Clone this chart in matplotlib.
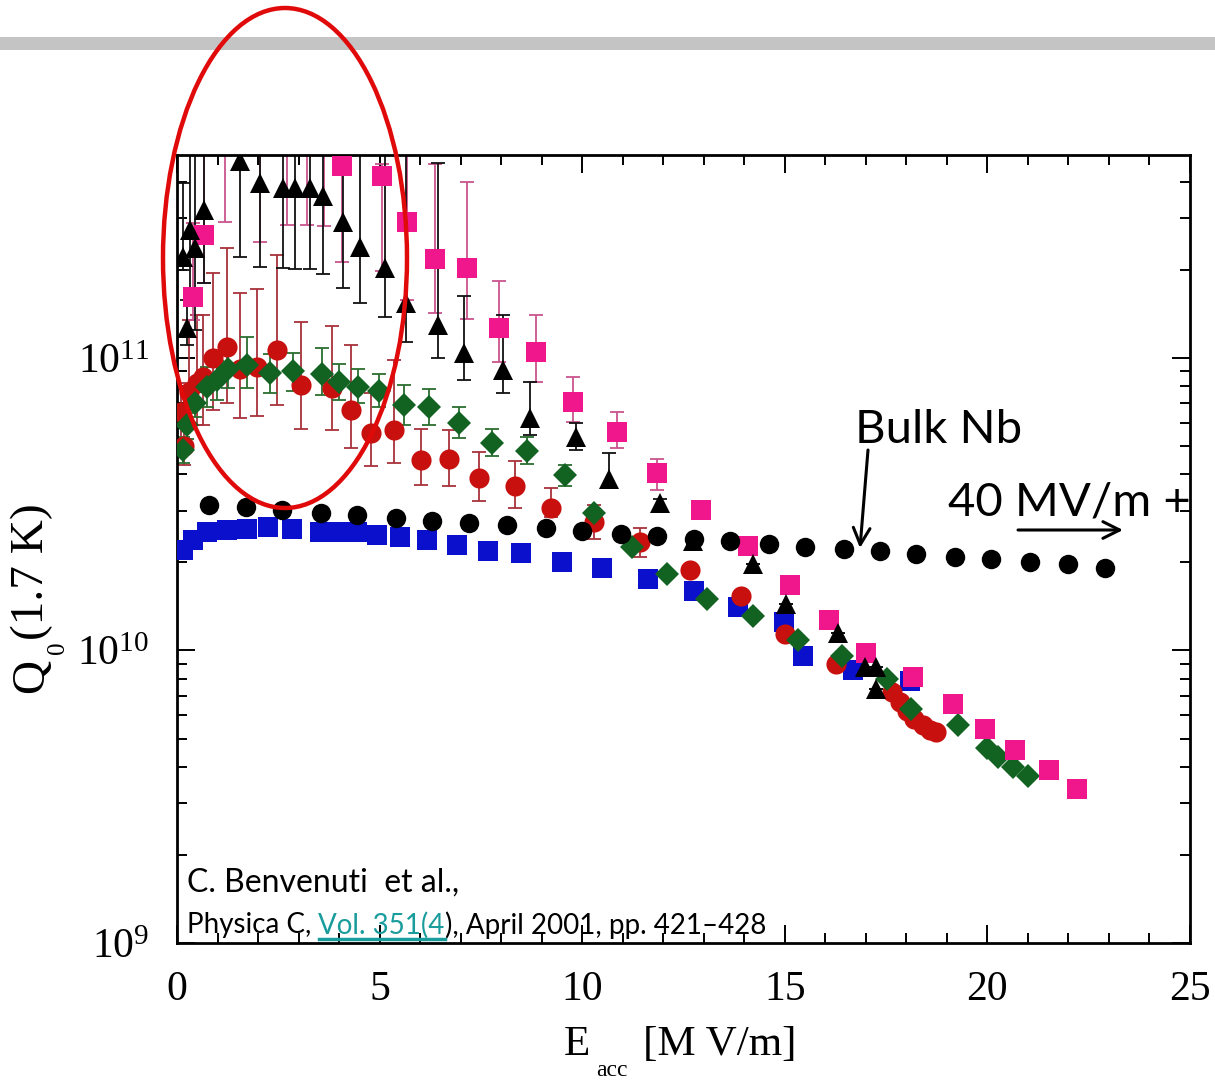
import matplotlib.pyplot as plt
from matplotlib.patches import Ellipse, Rectangle
from matplotlib.lines import Line2D
from matplotlib.ticker import MultipleLocator, LogLocator, NullFormatter

# E_acc in MV/m, Q0 in units of 1e10
bulk_E = [0.8, 1.7, 2.6, 3.55, 4.45, 5.4, 6.3, 7.2, 8.15, 9.1, 10.0, 10.95, 11.85,
          12.75, 13.65, 14.6, 15.5, 16.45, 17.35, 18.25, 19.2, 20.1, 21.05, 22.0, 22.9]
bulk_Q = [3.15, 3.10, 3.03, 2.96, 2.91, 2.84, 2.78, 2.73, 2.69, 2.63, 2.57, 2.51, 2.47,
          2.41, 2.36, 2.32, 2.26, 2.23, 2.18, 2.13, 2.08, 2.05, 2.01, 1.97, 1.92]

blue_E = [0.15, 0.40, 0.74, 1.23, 1.73, 2.25, 2.84, 3.53, 4.02, 4.44, 4.94, 5.51, 6.17,
          6.91, 7.68, 8.49, 9.51, 10.49, 11.63, 12.77, 13.85, 14.99, 15.46, 16.69, 18.10]
blue_Q = [2.21, 2.39, 2.55, 2.59, 2.61, 2.65, 2.61, 2.55, 2.55, 2.55, 2.49, 2.45, 2.39,
          2.30, 2.19, 2.16, 2.01, 1.92, 1.75, 1.60, 1.41, 1.25, 0.955, 0.855, 0.784]

green_E = [0.15, 0.25, 0.44, 0.74, 0.99, 1.26, 1.73, 2.30, 2.86, 3.58, 4.00, 4.47, 4.99,
           5.60, 6.22, 6.96, 7.78, 8.64, 9.58, 10.30, 11.23, 12.10, 13.09, 14.22, 15.33,
           16.42, 17.51, 18.12, 19.28, 19.98, 20.27, 20.64, 20.99]
green_Q = [4.85, 5.91, 7.02, 7.96, 8.41, 9.17, 9.46, 8.89, 9.03, 8.82, 8.28, 7.96, 7.71,
           6.91, 6.80, 6.00, 5.13, 4.82, 3.99, 2.96, 2.26, 1.82, 1.50, 1.31, 1.09,
           0.955, 0.802, 0.630, 0.555, 0.463, 0.432, 0.399, 0.371]
green_lo = [4.38, 5.30, 6.30, 6.80, 7.20, 7.90, 7.90, 7.60, 7.70, 7.48, 7.20, 7.00, 6.80,
            5.91, 5.91, 5.33, 4.63, 4.35, 3.66, 2.96, 2.26, 1.82, 1.50, 1.31, 1.09,
            0.955, 0.802, 0.630, 0.555, 0.463, 0.432, 0.399, 0.371]
green_hi = [5.37, 6.50, 7.90, 9.31, 9.80, 10.6, 11.8, 10.3, 10.4, 10.8, 9.50, 9.20, 8.80,
            8.09, 7.84, 6.80, 5.72, 5.37, 4.32, 2.96, 2.26, 1.82, 1.50, 1.31, 1.09,
            0.955, 0.802, 0.630, 0.555, 0.463, 0.432, 0.399, 0.371]

red_E = [0.10, 0.17, 0.30, 0.49, 0.64, 0.89, 1.23, 1.56, 1.98, 2.47, 3.06, 3.83, 4.30,
         4.79, 5.36, 6.02, 6.72, 7.46, 8.35, 9.23, 10.30, 11.43, 12.67, 13.93, 15.01,
         16.27, 17.65, 17.85, 18.02, 18.20, 18.40, 18.59, 18.72]
red_Q = [6.54, 5.01, 7.66, 8.22, 8.61, 10.0, 10.9, 9.17, 9.31, 10.65, 8.09, 7.90, 6.65,
         5.55, 5.68, 4.49, 4.52, 3.89, 3.66, 3.08, 2.75, 2.34, 1.89, 1.53, 1.135,
         0.896, 0.719, 0.665, 0.619, 0.582, 0.555, 0.533, 0.525]
red_lo = [5.20, 4.30, 5.70, 5.90, 5.91, 6.65, 7.02, 6.24, 6.34, 6.91, 5.72, 5.68, 4.93,
          4.28, 4.38, 3.69, 3.66, 3.25, 3.08, 2.87, 2.41, 2.09, 1.89, 1.53, 1.135,
          0.896, 0.719, 0.665, 0.619, 0.582, 0.555, 0.533, 0.525]
red_hi = [8.20, 6.10, 13.5, 14.0, 14.0, 19.5, 23.7, 16.7, 17.2, 22.4, 13.3, 12.9, 11.1,
          7.60, 9.84, 5.72, 5.68, 4.77, 4.45, 3.60, 3.15, 2.63, 1.89, 1.53, 1.135,
          0.896, 0.719, 0.665, 0.619, 0.582, 0.555, 0.533, 0.525]

tri_E = [0.15, 0.25, 0.32, 0.44, 0.67, 1.56, 2.05, 2.62, 2.91, 3.28, 3.60, 4.10, 4.52,
         5.14, 5.65, 6.44, 7.09, 8.05, 8.72, 9.85, 10.67, 11.93, 12.74, 14.22, 15.04,
         16.32, 16.99, 17.26, 17.26]
tri_Q = [22.1, 12.7, 27.4, 23.7, 32.0, 47.0, 39.6, 38.0, 38.0, 38.0, 35.7, 29.1, 23.9,
         20.3, 15.4, 13.0, 10.4, 9.10, 6.24, 5.37, 3.87, 3.18, 2.36, 1.98, 1.44,
         1.15, 0.875, 0.875, 0.736]
tri_lo = [20.0, 11.1, 17.1, 12.5, 18.0, 22.1, 20.4, 20.3, 20.1, 20.1, 19.3, 17.3, 15.4,
          13.8, 11.3, 10.0, 8.41, 7.60, 5.46, 4.85, 3.63, 3.05, 2.36, 1.98, 1.44,
          1.15, 0.875, 0.875, 0.736]
tri_hi = [39.6, 15.8, 100, 100, 100, 100, 100, 100, 100, 100, 100, 100, 100,
          100, 100, 46.4, 16.3, 14.0, 8.28, 6.00, 4.74, 3.30, 2.36, 1.98, 1.44,
          1.15, 0.875, 0.875, 0.736]

# points 3-7 lie above the top of the frame, only their bars show
pink_E = [0.40, 0.67, 1.19, 2.05, 2.72, 3.21, 3.63, 4.07, 5.06, 5.68, 6.37, 7.16, 7.95,
          8.86, 9.78, 10.86, 11.85, 12.94, 14.10, 15.14, 16.10, 17.01, 18.17, 19.16,
          19.93, 20.69, 21.53, 22.22]
pink_Q = [16.2, 26.3, 60, 60, 60, 60, 60, 45.2, 41.8, 29.1, 21.8, 20.3, 12.7,
          10.5, 7.08, 5.59, 4.05, 3.01, 2.28, 1.68, 1.27, 0.984, 0.809, 0.655,
          0.537, 0.456, 0.389, 0.336]
pink_lo = [13.5, 18.0, 29.1, 24.9, 28.4, 28.4, 28.2, 21.3, 19.9, 15.8, 14.2, 13.6, 9.69,
           8.28, 6.05, 4.93, 3.55, 3.01, 2.28, 1.68, 1.27, 0.984, 0.809, 0.655,
           0.537, 0.456, 0.389, 0.336]
pink_hi = [29.0, 100, 100, 100, 100, 100, 100, 100, 46.0, 100, 45.9, 39.9, 18.3,
           14.0, 8.61, 6.54, 4.52, 3.01, 2.28, 1.68, 1.27, 0.984, 0.809, 0.655,
           0.537, 0.456, 0.389, 0.336]

W, H = 1215, 1080
serif = ['Liberation Serif', 'DejaVu Serif']
sans = ['Lato', 'DejaVu Sans']
plt.rcParams['mathtext.fontset'] = 'stix'
plt.rcParams['font.family'] = serif

fig = plt.figure(figsize=(W / 100, H / 100), dpi=100)
ax = fig.add_axes([177 / W, 1 - 943 / H, (1190 - 177) / W, (943 - 155) / H])


def bars(E, Q, lo, hi, color, z):
    q = [v * 1e10 for v in Q]
    err = [[(v - l) * 1e10 for v, l in zip(Q, lo)], [(h - v) * 1e10 for v, h in zip(Q, hi)]]
    ax.errorbar(E, q, yerr=err, fmt='none', ecolor=color, elinewidth=1.3,
                capsize=5, capthick=1.3, zorder=z)


bars(red_E, red_Q, red_lo, red_hi, '#a8323c', 2)
bars(green_E, green_Q, green_lo, green_hi, '#2a6e30', 2)
bars(pink_E, pink_Q, pink_lo, pink_hi, '#c9548e', 2)
bars(tri_E, tri_Q, tri_lo, tri_hi, '#111111', 2)

ax.plot(blue_E, [v * 1e10 for v in blue_Q], 's', color='#0b10cc', ms=14.5, mew=0, zorder=3)
ax.plot(red_E, [v * 1e10 for v in red_Q], 'o', color='#c8100e', ms=14.5, mew=0, zorder=4)
ax.plot(green_E, [v * 1e10 for v in green_Q], 'D', color='#126222', ms=12.5, mew=0, zorder=5)
ax.plot(pink_E, [v * 1e10 for v in pink_Q], 's', color='#f0168c', ms=15, mew=0, zorder=6)
ax.plot(tri_E, [v * 1e10 for v in tri_Q], '^', color='black', ms=14, mew=0, zorder=7)
ax.plot(bulk_E, [v * 1e10 for v in bulk_Q], 'o', color='black', ms=14, mew=0, zorder=8)

ax.set_yscale('log')
ax.set_xlim(0, 25)
ax.set_ylim(1e9, 4.94e11)
ax.xaxis.set_major_locator(MultipleLocator(5))
ax.xaxis.set_minor_locator(MultipleLocator(1))
ax.yaxis.set_major_locator(LogLocator(base=10))
ax.yaxis.set_minor_locator(LogLocator(base=10, subs=range(2, 10)))
ax.yaxis.set_minor_formatter(NullFormatter())
ax.tick_params(which='both', direction='in', top=True, right=True, width=1.4)
ax.tick_params(which='major', length=13)
ax.tick_params(which='minor', length=7)
ax.tick_params(axis='x', labelsize=30, pad=20)
ax.tick_params(axis='y', labelsize=30, pad=20)
for s in ax.spines.values():
    s.set_linewidth(2)

# axis titles
fig.text(577 / W, 1 - 1045 / H, 'E', fontsize=31, ha='center', va='center')
fig.text(612 / W, 1 - 1070 / H, 'acc', fontsize=17, ha='center', va='center')
fig.text(720 / W, 1 - 1045 / H, '[M V/m]', fontsize=31, ha='center', va='center')
fig.text(32 / W, 1 - 676 / H, 'Q', fontsize=34, ha='center', va='center', rotation=90)
fig.text(58 / W, 1 - 648 / H, '0', fontsize=18, ha='center', va='center', rotation=90)
fig.text(32 / W, 1 - 572 / H, '(1.7 K)', fontsize=34, ha='center', va='center', rotation=90)

# slide decorations
fig.add_artist(Rectangle((0, 1 - 50 / H), 1, 13 / H, transform=fig.transFigure,
                         color='#c4c4c4', lw=0, zorder=0))
fig.add_artist(Ellipse((285 / W, 1 - 258 / H), 244 / W, 500 / H, transform=fig.transFigure,
                       fill=False, edgecolor='#e00a0a', lw=3.2, zorder=20))

fig.text(855 / W, 1 - 430 / H, 'Bulk Nb', fontsize=34, family=sans, va='center', zorder=21)
fig.text(948 / W, 1 - 503 / H, '40 MV/m +', fontsize=34, family=sans, va='center', zorder=21)
fig.add_artist(plt.Annotation('', xy=(860 / W, 1 - 548 / H), xytext=(868 / W, 1 - 450 / H),
                              xycoords='figure fraction', textcoords='figure fraction',
                              arrowprops=dict(arrowstyle='->', lw=2.2, color='black',
                                              mutation_scale=30, shrinkA=0, shrinkB=0)))
fig.add_artist(plt.Annotation('', xy=(1123 / W, 1 - 530 / H), xytext=(1018 / W, 1 - 530 / H),
                              xycoords='figure fraction', textcoords='figure fraction',
                              arrowprops=dict(arrowstyle='->', lw=2.2, color='black',
                                              mutation_scale=30, shrinkA=0, shrinkB=0)))

# reference
fig.text(187 / W, 1 - 883 / H, 'C. Benvenuti  et al.,', fontsize=23, family=sans, va='center')
fig.canvas.draw()
r = fig.canvas.get_renderer()
ty = 1 - 925 / H
t1 = fig.text(187 / W, ty, 'Physica C, ', fontsize=20, family=sans, va='center')
b1 = t1.get_window_extent(r)
t2 = fig.text(b1.x1 / W, ty, 'Vol. 351(4', fontsize=20, family=sans, va='center', color='#1a9c9c')
b2 = t2.get_window_extent(r)
fig.add_artist(Line2D([b2.x0 / W, b2.x1 / W], [(b2.y0 - 1) / H] * 2, color='#1a9c9c', lw=2.5))
fig.text(b2.x1 / W, ty, '), April 2001, pp. 421\u2013428', fontsize=20, family=sans, va='center')

fig.savefig('out.png', dpi=100)
